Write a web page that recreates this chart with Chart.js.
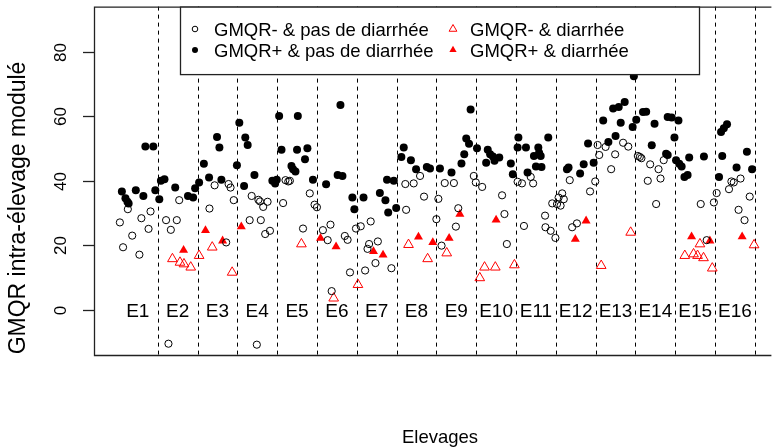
<!DOCTYPE html>
<html>
<head>
<meta charset="utf-8">
<script src="https://cdn.jsdelivr.net/npm/chart.js@4"></script>
<style>
    body { margin: 0; background: #fff; }
    canvas { display: block; }
</style>
</head>
<body>
<canvas id="gmqrChart" width="778" height="448"></canvas>
<script>
// GMQR- & pas de diarrhée (open circles)
const negNoDiarX = [0.05, 0.13, 0.25, 0.36, 0.54, 0.59, 0.77, 0.82,
    1.21, 1.27, 1.33, 1.48, 1.54,
    2.30, 2.43, 2.72, 2.78, 2.83, 2.91,
    3.31, 3.36, 3.49, 3.53, 3.57, 3.59, 3.65, 3.70, 3.76, 3.82,
    4.15, 4.21, 4.28, 4.32, 4.65, 4.82, 4.94, 5.00,
    5.15, 5.27, 5.34, 5.37, 5.70, 5.77, 5.83, 5.98,
    6.10, 6.21, 6.27, 6.31, 6.35, 6.47, 6.53, 6.87,
    7.22, 7.24, 7.43, 7.59, 7.69,
    8.00, 8.05, 8.13, 8.21, 8.44, 8.49, 8.55,
    8.94, 8.99, 9.15, 9.65, 9.71, 9.77,
    10.04, 10.15, 10.20, 10.37, 10.43, 10.73, 10.74, 10.87, 10.91, 10.99,
    11.03, 11.07, 11.12, 11.16, 11.20, 11.35, 11.41, 11.53, 11.86, 11.99,
    12.05, 12.09, 12.25, 12.39, 12.49, 12.69, 12.82, 13.06, 13.11, 13.15,
    13.31, 13.37, 13.52, 13.58, 13.63, 13.71,
    14.64, 14.79,
    14.97, 15.04, 15.35, 15.41, 15.47, 15.59, 15.64, 15.74, 15.87];
const negNoDiarY = [27.1, 19.4, 31.2, 23.0, 17.1, 28.4, 25.1, 30.5,
    27.8, -10.5, 24.8, 27.8, 34.0,
    31.4, 38.6, 20.9, 39.0, 37.9, 34.0,
    27.8, 35.3, -10.8, 34.1, 33.6, 27.8, 31.9, 23.5, 33.5, 24.5,
    33.1, 40.2, 39.8, 40.0, 25.2, 36.1, 32.6, 31.8,
    24.7, 21.6, 26.4, 5.8, 22.9, 21.7, 11.6, 25.2,
    25.9, 12.2, 18.9, 20.4, 27.4, 14.5, 21.2, 12.9,
    39.0, 31.0, 39.2, 41.5, 35.1,
    28.1, 34.4, 19.9, 39.3, 39.3, 25.8, 31.5,
    41.5, 39.5, 38.1, 35.5, 29.7, 20.4,
    39.7, 39.2, 26.0, 41.2, 39.2, 29.2, 25.6, 24.5, 33.0, 22.3,
    32.8, 34.8, 32.3, 36.1, 34.3, 40.2, 25.6, 26.8, 36.7, 39.8,
    51.1, 48.0, 50.5, 43.6, 48.2, 51.8, 50.6, 47.7, 47.4, 47.0,
    40.0, 45.1, 32.8, 43.6, 40.7, 46.4,
    32.8, 21.6,
    33.3, 36.2, 37.4, 39.8, 39.5, 31.0, 40.7, 27.8, 35.1];

// GMQR+ & pas de diarrhée (filled circles)
const posNoDiarX = [0.10, 0.19, 0.24, 0.27, 0.45, 0.64, 0.69, 0.89, 0.94,
    1.04, 1.08, 1.17, 1.44, 1.76, 1.89, 1.94,
    2.04, 2.16, 2.29, 2.49, 2.55, 2.60,
    2.99, 3.05, 3.17, 3.20, 3.26, 3.43, 3.88, 3.95,
    3.99, 4.05, 4.11, 4.36, 4.40, 4.46, 4.50, 4.52, 4.70, 4.76, 4.90,
    5.23, 5.52, 5.59, 5.64, 5.89, 5.94,
    6.17, 6.58, 6.72, 6.76, 6.79, 6.93, 6.99,
    7.12, 7.18, 7.36, 7.49, 7.76, 7.84,
    8.09, 8.38, 8.63, 8.70, 8.75, 8.82, 8.86,
    9.02, 9.25, 9.29, 9.35, 9.42, 9.46, 9.58, 9.87, 9.92,
    10.04, 10.06, 10.25, 10.29, 10.45, 10.50, 10.56, 10.58, 10.62, 10.64, 10.81,
    11.28, 11.32, 11.61, 11.70, 11.81, 11.95,
    12.19, 12.32, 12.44, 12.50, 12.58, 12.63, 12.73, 12.93, 12.96,
    13.02, 13.19, 13.27, 13.41, 13.48, 13.77, 13.81, 13.81, 13.91, 13.98,
    14.02, 14.08, 14.10, 14.16, 14.23, 14.31, 14.35, 14.72,
    15.10, 15.15, 15.18, 15.22, 15.30, 15.54, 15.80, 15.93];
const posNoDiarY = [36.7, 34.6, 33.5, 33.0, 37.1, 35.3, 50.6, 50.6, 37.1,
    34.3, 40.0, 40.5, 37.9, 35.3, 34.8, 37.7,
    39.5, 45.3, 41.0, 53.6, 50.3, 40.3,
    44.8, 58.0, 38.4, 53.4, 51.1, 41.8, 40.0, 39.2,
    40.3, 60.1, 49.6, 44.6, 43.6, 42.9, 49.6, 60.1, 46.7, 50.1, 40.3,
    38.9, 41.8, 63.5, 41.5, 34.8, 31.2,
    34.8, 36.2, 34.0, 40.3, 30.2, 40.0, 31.6,
    47.4, 50.3, 46.4, 43.6, 44.3, 43.8,
    43.8, 42.6, 45.4, 48.2, 53.1, 51.5, 62.1,
    50.1, 45.6, 49.6, 48.2, 47.5, 46.2, 47.2, 45.4, 42.0,
    50.3, 53.4, 50.3, 42.6, 47.7, 44.4, 50.3, 48.7, 47.7, 44.3, 53.4,
    43.6, 44.1, 42.3, 45.1, 51.6, 45.6,
    58.7, 52.0, 62.4, 53.9, 62.9, 58.0, 64.4, 56.7, 72.4,
    58.9, 61.3, 61.4, 51.0, 57.7, 48.4, 48.0, 59.8, 59.6, 53.4,
    46.4, 58.7, 45.3, 44.4, 41.2, 41.8, 47.2, 47.5,
    41.2, 55.1, 47.7, 56.3, 57.5, 44.1, 49.0, 43.6];

// GMQR- & diarrhée (open red triangles)
const negDiarX = [1.37, 1.56, 1.66, 1.83, 2.04, 2.37, 2.87, 4.61, 5.42, 6.03,
    7.30, 7.78, 8.26, 9.09, 9.21, 9.48, 9.96, 12.14, 12.88,
    14.24, 14.46, 14.56, 14.62, 14.71, 14.93, 15.98];
const negDiarY = [15.8, 14.7, 14.2, 13.2, 16.8, 19.4, 11.6, 20.4, 3.6, 7.8,
    20.2, 15.8, 17.6, 9.9, 13.2, 13.2, 13.9, 13.7, 24.0,
    16.8, 17.3, 16.8, 20.4, 16.1, 12.9, 20.1];

// GMQR+ & diarrhée (filled red triangles)
const posDiarX = [1.65, 2.20, 2.63, 3.10, 5.09, 5.48, 6.42, 6.66, 7.55, 7.91,
    8.32, 8.59, 9.50, 11.49, 11.76, 14.41, 14.87, 15.68];
const posDiarY = [18.5, 24.6, 21.4, 25.8, 22.2, 19.6, 18.1, 17.0, 22.6, 20.9,
    22.2, 29.7, 27.9, 21.9, 27.6, 22.7, 21.4, 22.7];

const groupLabels = ['E1', 'E2', 'E3', 'E4', 'E5', 'E6', 'E7', 'E8',
    'E9', 'E10', 'E11', 'E12', 'E13', 'E14', 'E15', 'E16'];
const groupBounds = [1, 2, 3, 4, 5, 6, 7, 8, 9, 10, 11, 12, 13, 14, 15, 16];
const yTicks = [0, 20, 40, 60, 80];
const legendLabels = ['GMQR- & pas de diarrhée', 'GMQR+ & pas de diarrhée',
    'GMQR- & diarrhée', 'GMQR+ & diarrhée'];

document.addEventListener('DOMContentLoaded', function () {
    const canvas = document.getElementById('gmqrChart');
    if (typeof Chart === 'undefined') {
        console.warn('Chart.js is not loaded.');
        return;
    }

    const FONT = '"Liberation Sans", Arial, sans-serif';
    const RED = '#ff0000';

    const toPoints = (xs, ys) => xs.map((x, i) => ({ x: x, y: ys[i] }));

    // R-style frame, axis, labels and legend drawn on top of the chart area
    const rPlot = {
        id: 'rPlot',
        beforeDatasetsDraw(chart) {
            const { ctx, chartArea: a, scales: { x, y } } = chart;
            ctx.save();
            ctx.strokeStyle = '#000';
            ctx.lineWidth = 1;
            ctx.setLineDash([4, 4]);
            groupBounds.forEach(b => {
                const px = Math.round(x.getPixelForValue(b)) + 0.5;
                ctx.beginPath();
                ctx.moveTo(px, a.top);
                ctx.lineTo(px, a.bottom);
                ctx.stroke();
            });
            ctx.setLineDash([]);

            ctx.fillStyle = '#000';
            ctx.font = '19px ' + FONT;
            ctx.textAlign = 'center';
            ctx.textBaseline = 'middle';
            groupLabels.forEach((t, i) => {
                ctx.fillText(t, x.getPixelForValue(i + 0.5), y.getPixelForValue(0) + 2);
            });
            ctx.restore();
        },
        afterDatasetsDraw(chart) {
            const { ctx, chartArea: a, scales: { y } } = chart;
            ctx.save();

            // frame (right side falls outside the picture)
            ctx.strokeStyle = '#222';
            ctx.lineWidth = 1.3;
            ctx.beginPath();
            ctx.moveTo(a.right, a.top + 0.5);
            ctx.lineTo(a.left + 0.5, a.top + 0.5);
            ctx.lineTo(a.left + 0.5, a.bottom + 0.5);
            ctx.lineTo(a.right, a.bottom + 0.5);
            ctx.stroke();

            // y ticks and rotated labels
            ctx.fillStyle = '#000';
            ctx.font = '17px ' + FONT;
            ctx.textAlign = 'center';
            ctx.textBaseline = 'middle';
            yTicks.forEach(v => {
                const py = Math.round(y.getPixelForValue(v)) + 0.5;
                ctx.beginPath();
                ctx.moveTo(a.left - 11, py);
                ctx.lineTo(a.left, py);
                ctx.stroke();
                ctx.save();
                ctx.translate(61.5, py);
                ctx.rotate(-Math.PI / 2);
                ctx.fillText(String(v), 0, 0);
                ctx.restore();
            });

            // axis titles
            ctx.save();
            ctx.font = '23px ' + FONT;
            ctx.translate(18.5, 208);
            ctx.rotate(-Math.PI / 2);
            ctx.fillText('GMQR intra-élevage modulé', 0, 0);
            ctx.restore();
            ctx.font = '18.5px ' + FONT;
            ctx.textBaseline = 'alphabetic';
            ctx.fillText('Elevages', 440, 443);

            // legend box
            ctx.fillStyle = '#fff';
            ctx.fillRect(180.5, a.top + 0.5, 519, 67.5);
            ctx.strokeStyle = '#222';
            ctx.lineWidth = 1.3;
            ctx.strokeRect(180.5, a.top + 0.5, 519, 67.5);

            const draw = Chart.helpers.drawPoint;
            ctx.lineWidth = 1;
            ctx.strokeStyle = '#000';
            ctx.fillStyle = 'rgba(0,0,0,0)';
            draw(ctx, { pointStyle: 'circle', radius: 2.8, borderWidth: 1 }, 195, 29);
            ctx.fillStyle = '#000';
            draw(ctx, { pointStyle: 'circle', radius: 3, borderWidth: 0 }, 195, 50);
            ctx.strokeStyle = RED;
            ctx.fillStyle = 'rgba(0,0,0,0)';
            draw(ctx, { pointStyle: 'triangle', radius: 4.5, borderWidth: 1 }, 453, 29);
            ctx.fillStyle = RED;
            draw(ctx, { pointStyle: 'triangle', radius: 4.2, borderWidth: 0 }, 453, 50);

            ctx.fillStyle = '#000';
            ctx.font = '18.5px ' + FONT;
            ctx.textAlign = 'left';
            ctx.textBaseline = 'middle';
            ctx.fillText(legendLabels[0], 214, 30.5);
            ctx.fillText(legendLabels[1], 214, 51.5);
            ctx.fillText(legendLabels[2], 470, 30.5);
            ctx.fillText(legendLabels[3], 470, 51.5);
            ctx.restore();
        }
    };

    new Chart(canvas, {
        type: 'scatter',
        data: {
            datasets: [{
                label: legendLabels[0],
                data: toPoints(negNoDiarX, negNoDiarY),
                pointStyle: 'circle',
                pointRadius: 3.6,
                borderWidth: 1,
                borderColor: '#000',
                backgroundColor: 'rgba(0,0,0,0)'
            }, {
                label: legendLabels[1],
                data: toPoints(posNoDiarX, posNoDiarY),
                pointStyle: 'circle',
                pointRadius: 4,
                borderWidth: 0,
                borderColor: '#000',
                backgroundColor: '#000'
            }, {
                label: legendLabels[2],
                data: toPoints(negDiarX, negDiarY),
                pointStyle: 'triangle',
                pointRadius: 5.6,
                borderWidth: 1,
                borderColor: RED,
                backgroundColor: 'rgba(0,0,0,0)'
            }, {
                label: legendLabels[3],
                data: toPoints(posDiarX, posDiarY),
                pointStyle: 'triangle',
                pointRadius: 5.2,
                borderWidth: 0,
                borderColor: RED,
                backgroundColor: RED
            }]
        },
        options: {
            responsive: false,
            animation: false,
            events: [],
            layout: {
                padding: { left: 94, top: 5, right: 0, bottom: 93 }
            },
            scales: {
                x: {
                    type: 'linear',
                    display: false,
                    min: -0.6,
                    max: 16.415
                },
                y: {
                    type: 'linear',
                    display: false,
                    min: -14,
                    max: 94
                }
            },
            plugins: {
                legend: { display: false },
                tooltip: { enabled: false }
            }
        },
        plugins: [rPlot]
    });
});
</script>
</body>
</html>
